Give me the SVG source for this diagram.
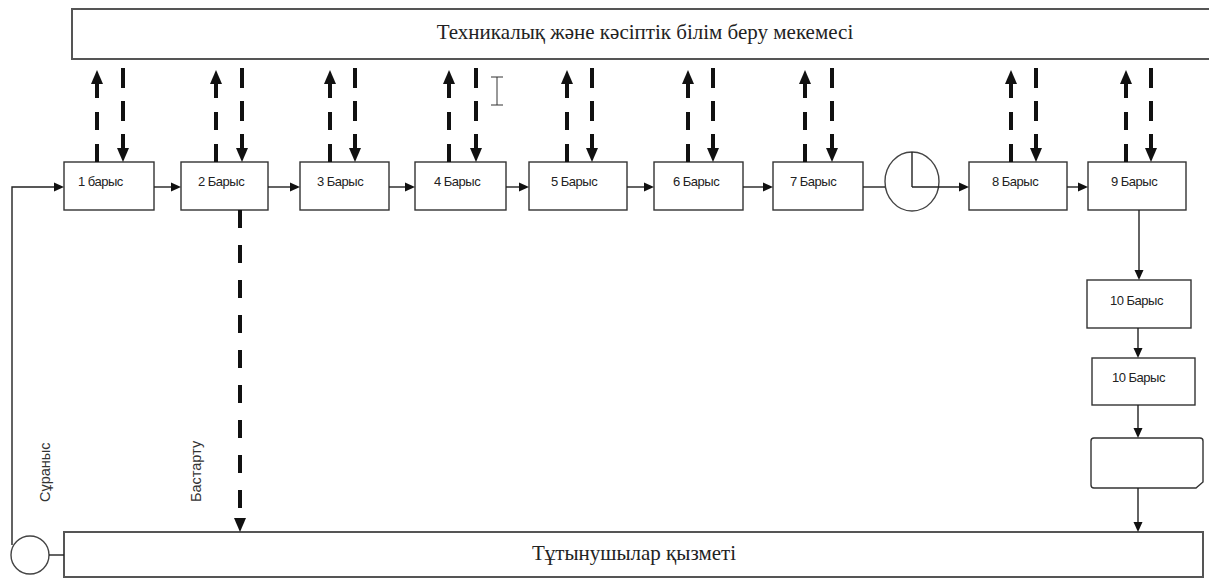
<svg xmlns="http://www.w3.org/2000/svg" width="1209" height="578" viewBox="0 0 1209 578">
<style>
.box{fill:#fff;stroke:#333;stroke-width:1.4}
.big{fill:#fff;stroke:#555;stroke-width:2}
.lbl{font-family:"Liberation Sans",Arial,sans-serif;font-size:13px;fill:#222;letter-spacing:-0.5px}
.ttl{font-family:"Liberation Serif","Times New Roman",serif;font-size:21px;fill:#222;text-anchor:middle}
.rot{font-family:"Liberation Sans",Arial,sans-serif;font-size:14.5px;fill:#333}
.sol{fill:none;stroke:#222;stroke-width:1.4}
.up{fill:none;stroke:#111;stroke-width:4;stroke-dasharray:18 14}
.dn{fill:none;stroke:#111;stroke-width:4;stroke-dasharray:20 13}
.dl{fill:none;stroke:#111;stroke-width:4;stroke-dasharray:18 17}
</style>
<defs>
<marker id="ab" viewBox="0 -6 14 12" refX="0" refY="0" markerWidth="14" markerHeight="12" markerUnits="userSpaceOnUse" orient="auto"><path d="M0,-6 L14,0 L0,6 z" fill="#111"/></marker>
<marker id="as" viewBox="0 -5 10 10" refX="0" refY="0" markerWidth="10" markerHeight="10" markerUnits="userSpaceOnUse" orient="auto"><path d="M0,-4.5 L10,0 L0,4.5 z" fill="#111"/></marker>
</defs>

<g id="top-box">
<rect class="big" x="72" y="9" width="1145" height="50"/>
<text class="ttl" x="645" y="39">Техникалық және кәсіптік білім беру мекемесі</text>
</g>

<g id="bottom-box">
<rect class="big" x="64" y="532" width="1139" height="45"/>
<text class="ttl" x="634" y="560">Тұтынушылар қызметі</text>
</g>

<g id="start-circle"><circle cx="30" cy="555" r="19" fill="#fff" stroke="#444" stroke-width="1.4"/></g>

<g id="step1"><rect class="box" x="64" y="162" width="90" height="48"/><text class="lbl" x="78" y="186">1 барыс</text></g>
<g id="step2"><rect class="box" x="181" y="162" width="87" height="48"/><text class="lbl" x="198" y="186">2 Барыс</text></g>
<g id="step3"><rect class="box" x="300" y="162" width="89" height="48"/><text class="lbl" x="317" y="186">3 Барыс</text></g>
<g id="step4"><rect class="box" x="415" y="162" width="91" height="48"/><text class="lbl" x="434" y="186">4 Барыс</text></g>
<g id="step5"><rect class="box" x="529" y="162" width="98" height="48"/><text class="lbl" x="551" y="186">5 Барыс</text></g>
<g id="step6"><rect class="box" x="654" y="162" width="89" height="48"/><text class="lbl" x="673" y="186">6 Барыс</text></g>
<g id="step7"><rect class="box" x="773" y="162" width="90" height="48"/><text class="lbl" x="790" y="186">7 Барыс</text></g>
<g id="timer"><ellipse cx="912" cy="181.5" rx="27" ry="29.5" fill="#fff" stroke="#444" stroke-width="1.4"/><path class="sol" d="M912,152 V187"/></g>
<g id="step8"><rect class="box" x="969" y="162" width="98" height="48"/><text class="lbl" x="992" y="186">8 Барыс</text></g>
<g id="step9"><rect class="box" x="1088" y="162" width="98" height="48"/><text class="lbl" x="1111" y="186">9 Барыс</text></g>
<g id="step10a"><rect class="box" x="1087" y="280" width="104" height="48"/><text class="lbl" x="1110" y="305">10 Барыс</text></g>
<g id="step10b"><rect class="box" x="1092" y="358" width="103" height="47"/><text class="lbl" x="1112" y="382">10 Барыс</text></g>
<g id="document"><path class="box" d="M1094,438 H1200 Q1203,438 1203,441 V482 L1196,488 H1094 Q1091,488 1091,485 V441 Q1091,438 1094,438 Z"/></g>

<g id="labels">
<text class="rot" transform="translate(50,502) rotate(-90)">Сұраныс</text>
<text class="rot" transform="translate(201,502) rotate(-90)">Бастарту</text>
</g>

<g id="connectors">
<path class="sol" d="M12,545 V187 H54" marker-end="url(#as)"/>
<path class="sol" d="M49,555 H64"/>
<path class="sol" d="M154,187 H171" marker-end="url(#as)"/>
<path class="sol" d="M268,187 H290" marker-end="url(#as)"/>
<path class="sol" d="M389,187 H405" marker-end="url(#as)"/>
<path class="sol" d="M506,187 H519" marker-end="url(#as)"/>
<path class="sol" d="M627,187 H644" marker-end="url(#as)"/>
<path class="sol" d="M743,187 H763" marker-end="url(#as)"/>
<path class="sol" d="M863,187 H885"/>
<path class="sol" d="M912,187 H959" marker-end="url(#as)"/>
<path class="sol" d="M1067,187 H1078" marker-end="url(#as)"/>
<path class="sol" d="M1139,210 V270" marker-end="url(#as)"/>
<path class="sol" d="M1138,328 V348" marker-end="url(#as)"/>
<path class="sol" d="M1138,405 V428" marker-end="url(#as)"/>
<path class="sol" d="M1138,488 V522" marker-end="url(#as)"/>
<path class="dl" d="M240,210 V518" marker-end="url(#ab)"/>
<path class="up" d="M97,162 V84" marker-end="url(#ab)"/>
<path class="dn" d="M123,68 V148" marker-end="url(#ab)"/>
<path class="up" d="M216,162 V84" marker-end="url(#ab)"/>
<path class="dn" d="M242,68 V148" marker-end="url(#ab)"/>
<path class="up" d="M330,162 V84" marker-end="url(#ab)"/>
<path class="dn" d="M355,68 V148" marker-end="url(#ab)"/>
<path class="up" d="M449,162 V84" marker-end="url(#ab)"/>
<path class="dn" d="M476,68 V148" marker-end="url(#ab)"/>
<path class="up" d="M567,162 V84" marker-end="url(#ab)"/>
<path class="dn" d="M592,68 V148" marker-end="url(#ab)"/>
<path class="up" d="M688,162 V84" marker-end="url(#ab)"/>
<path class="dn" d="M713,68 V148" marker-end="url(#ab)"/>
<path class="up" d="M805,162 V84" marker-end="url(#ab)"/>
<path class="dn" d="M832,68 V148" marker-end="url(#ab)"/>
<path class="up" d="M1011,162 V84" marker-end="url(#ab)"/>
<path class="dn" d="M1036,68 V148" marker-end="url(#ab)"/>
<path class="up" d="M1126,162 V84" marker-end="url(#ab)"/>
<path class="dn" d="M1151,68 V148" marker-end="url(#ab)"/>
</g>

<g id="cursor"><path d="M491,77 H503 M497,77 V105 M491,105 H503" fill="none" stroke="#333" stroke-width="1"/></g>
</svg>
